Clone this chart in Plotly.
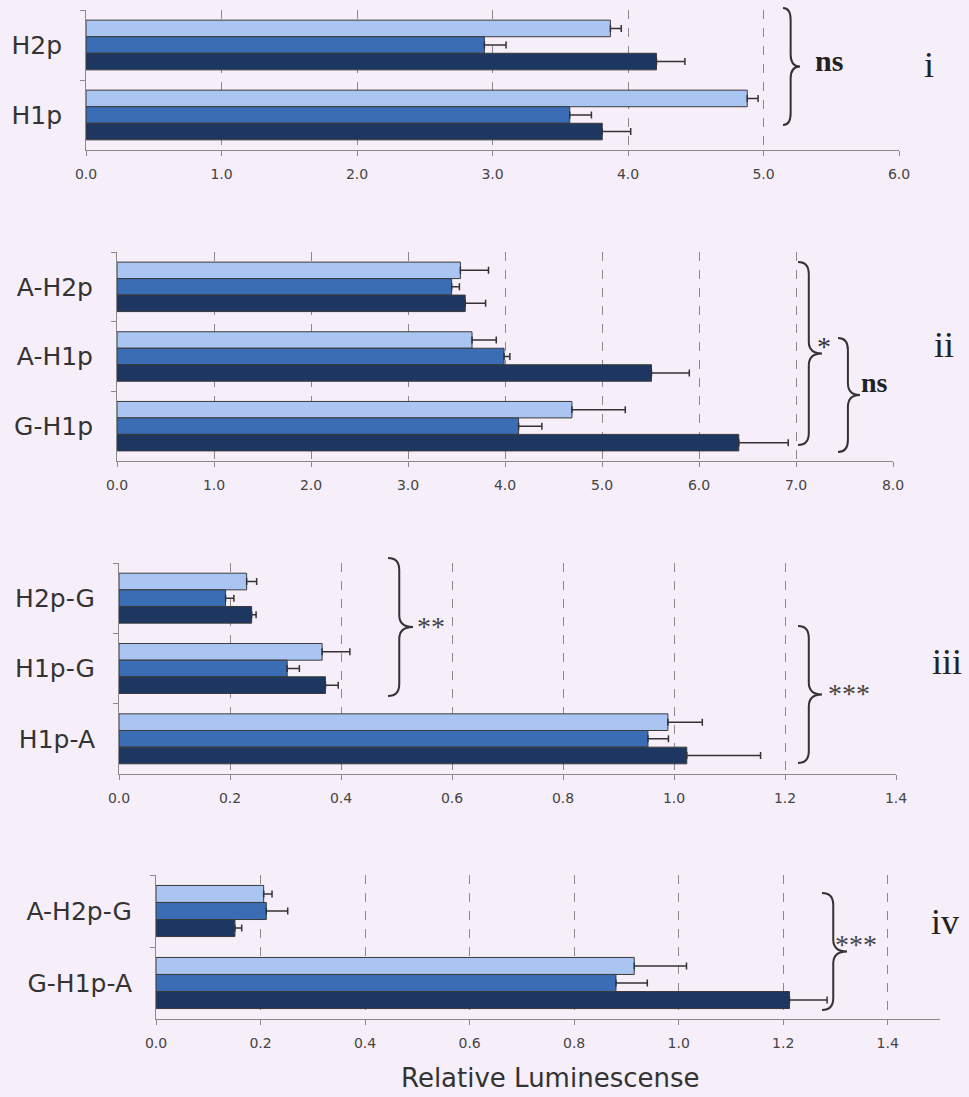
import plotly.graph_objects as go

W, H = 969, 1097

# ---------------- data ----------------
cats_i = ["H2p", "H1p"]
light_i = [3.87, 4.88]
light_i_err = [0.08, 0.08]
medium_i = [2.94, 3.57]
medium_i_err = [0.16, 0.16]
dark_i = [4.21, 3.81]
dark_i_err = [0.21, 0.21]

cats_ii = ["A-H2p", "A-H1p", "G-H1p"]
light_ii = [3.54, 3.66, 4.69]
light_ii_err = [0.29, 0.25, 0.55]
medium_ii = [3.45, 3.99, 4.14]
medium_ii_err = [0.08, 0.06, 0.24]
dark_ii = [3.59, 5.51, 6.41]
dark_ii_err = [0.21, 0.39, 0.51]

cats_iii = ["H2p-G", "H1p-G", "H1p-A"]
light_iii = [0.230, 0.366, 0.989]
light_iii_err = [0.018, 0.050, 0.062]
medium_iii = [0.192, 0.303, 0.953]
medium_iii_err = [0.015, 0.022, 0.037]
dark_iii = [0.239, 0.372, 1.023]
dark_iii_err = [0.008, 0.023, 0.133]

cats_iv = ["A-H2p-G", "G-H1p-A"]
light_iv = [0.206, 0.915]
light_iv_err = [0.016, 0.100]
medium_iv = [0.211, 0.880]
medium_iv_err = [0.041, 0.060]
dark_iv = [0.151, 1.212]
dark_iv_err = [0.013, 0.072]

x_ticks_i = [0, 1, 2, 3, 4, 5, 6]
x_ticks_ii = [0, 1, 2, 3, 4, 5, 6, 7, 8]
x_ticks_iii = [0, 0.2, 0.4, 0.6, 0.8, 1.0, 1.2, 1.4]
x_ticks_iv = [0, 0.2, 0.4, 0.6, 0.8, 1.0, 1.2, 1.4]

x_title = "Relative Luminescense"
# ---------------------------------------

COL_LIGHT = "#aac5f2"
COL_MED = "#3a6db4"
COL_DARK = "#1e3761"
BG = "#f6eef9"
AXC = "#8a8a8a"

def px_x(x):
    return x / W

def px_y(y):
    return 1 - y / H

panels = [
    dict(cats=cats_i, series=[(light_i, light_i_err, COL_LIGHT), (medium_i, medium_i_err, COL_MED), (dark_i, dark_i_err, COL_DARK)],
         ticks=x_ticks_i, rng=[0, 6], xd=(86, 899), yd=(10, 150)),
    dict(cats=cats_ii, series=[(light_ii, light_ii_err, COL_LIGHT), (medium_ii, medium_ii_err, COL_MED), (dark_ii, dark_ii_err, COL_DARK)],
         ticks=x_ticks_ii, rng=[0, 8], xd=(117, 893), yd=(252, 461)),
    dict(cats=cats_iii, series=[(light_iii, light_iii_err, COL_LIGHT), (medium_iii, medium_iii_err, COL_MED), (dark_iii, dark_iii_err, COL_DARK)],
         ticks=x_ticks_iii, rng=[0, 1.4], xd=(119, 896), yd=(563, 774)),
    dict(cats=cats_iv, series=[(light_iv, light_iv_err, COL_LIGHT), (medium_iv, medium_iv_err, COL_MED), (dark_iv, dark_iv_err, COL_DARK)],
         ticks=x_ticks_iv, rng=[0, 1.5], xd=(156, 940), yd=(875, 1019)),
]

fig = go.Figure()
layout = dict(
    width=W, height=H, margin=dict(l=0, r=0, t=0, b=0, pad=0),
    paper_bgcolor=BG, plot_bgcolor=BG,
    barmode="group", bargap=0.29, bargroupgap=0,
    showlegend=False,
)

for i, p in enumerate(panels):
    n = i + 1
    xa = "x" if n == 1 else f"x{n}"
    ya = "y" if n == 1 else f"y{n}"
    for vals, errs, col in p["series"]:
        fig.add_trace(go.Bar(
            x=vals, y=p["cats"], orientation="h", xaxis=xa, yaxis=ya,
            marker=dict(color=col, line=dict(color="#3a3a3a", width=1)),
            error_x=dict(type="data", array=errs, arrayminus=[0] * len(errs), symmetric=False,
                         color="#333333", thickness=1.5, width=3.5),
        ))
    xk = "xaxis" if n == 1 else f"xaxis{n}"
    yk = "yaxis" if n == 1 else f"yaxis{n}"
    layout[xk] = dict(
        domain=[px_x(p["xd"][0]), px_x(p["xd"][1])], anchor=ya, range=p["rng"],
        automargin=False,
        tickmode="array", tickvals=p["ticks"], ticktext=[f"{t:.1f}" for t in p["ticks"]],
        showgrid=True, gridcolor=AXC, griddash="dash", gridwidth=1, zeroline=False,
        showline=True, linecolor=AXC, linewidth=1, ticks="outside", ticklen=5, tickcolor=AXC,
        tickfont=dict(family="DejaVu Sans", size=14, color="#444444"), ticklabelstandoff=6,
        fixedrange=True,
    )
    ncat = len(p["cats"])
    layout[yk] = dict(
        domain=[px_y(p["yd"][1]), px_y(p["yd"][0])], anchor=xa, type="category",
        automargin=False,
        range=[ncat - 0.5, -0.5], showgrid=False, zeroline=False,
        showline=True, linecolor=AXC, linewidth=1, ticks="outside", ticklen=5, tickcolor=AXC,
        tickson="boundaries",
        tickfont=dict(family="DejaVu Sans", size=25, color="#333333"), ticklabelstandoff=18,
        fixedrange=True,
    )

fig.update_layout(**layout)

# braces: (left x, tip x, top y, bottom y) in pixels
braces = [
    (783, 800, 8, 125),
    (798, 822, 262, 445),
    (838, 860, 338, 452),
    (388, 413, 558, 696),
    (798, 822, 626, 763),
    (822, 847, 893, 1010),
]

def brace_path(xl, xt, yt, yb):
    xs = xl + 0.45 * (xt - xl)
    r = min(12, (yb - yt) / 6)
    ym = (yt + yb) / 2
    pts = lambda x, y: f"{px_x(x):.5f},{px_y(y):.5f}"
    return (f"M{pts(xl, yt)} Q{pts(xs, yt)} {pts(xs, yt + r)} L{pts(xs, ym - r)} "
            f"Q{pts(xs, ym)} {pts(xt, ym)} Q{pts(xs, ym)} {pts(xs, ym + r)} "
            f"L{pts(xs, yb - r)} Q{pts(xs, yb)} {pts(xl, yb)}")

for b in braces:
    fig.add_shape(type="path", path=brace_path(*b), xref="paper", yref="paper",
                  line=dict(color="#333333", width=2))

SERIF = "Liberation Serif"
labels = [
    ("<b>ns</b>", 829, 60, 30, "#222222"),
    ("*", 824, 347, 28, "#333333"),
    ("<b>ns</b>", 874, 382, 28, "#222222"),
    ("**", 431, 626, 28, "#444444"),
    ("***", 849, 693, 28, "#444444"),
    ("***", 856, 944, 28, "#444444"),
    ("i", 929, 65, 36, "#222222"),
    ("ii", 944, 345, 36, "#222222"),
    ("iii", 947, 662, 36, "#222222"),
    ("iv", 945, 922, 36, "#222222"),
]
for txt, x, y, sz, col in labels:
    fig.add_annotation(text=txt, x=px_x(x), y=px_y(y), xref="paper", yref="paper",
                       xanchor="center", yanchor="middle", showarrow=False,
                       font=dict(family=SERIF, size=sz, color=col))

fig.add_annotation(text=x_title, x=px_x(550), y=px_y(1078), xref="paper", yref="paper",
                   xanchor="center", yanchor="middle", showarrow=False,
                   font=dict(family="DejaVu Sans", size=26, color="#333333"))

fig.write_html("out.html", config={"displayModeBar": False},
               post_script="document.body.style.margin='0';document.body.style.overflow='hidden';")
